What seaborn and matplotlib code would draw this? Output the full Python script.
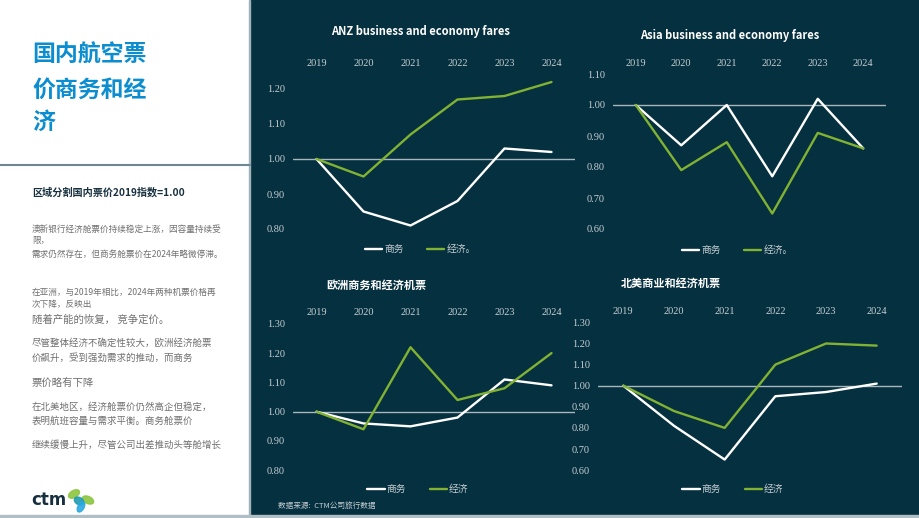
import matplotlib
matplotlib.use('Agg')
import matplotlib.pyplot as plt
import seaborn as sns
import pandas as pd
from matplotlib.patches import Rectangle, Ellipse
from matplotlib.lines import Line2D
from matplotlib.ticker import FormatStrFormatter

# data (index 2019 = 1.00)
years = ['2019', '2020', '2021', '2022', '2023', '2024']
anz_business = [1.00, 0.85, 0.81, 0.88, 1.03, 1.02]
anz_economy = [1.00, 0.95, 1.07, 1.17, 1.18, 1.22]
asia_business = [1.00, 0.87, 1.00, 0.77, 1.02, 0.86]
asia_economy = [1.00, 0.79, 0.88, 0.65, 0.91, 0.86]
europe_business = [1.00, 0.96, 0.95, 0.98, 1.11, 1.09]
europe_economy = [1.00, 0.94, 1.22, 1.04, 1.08, 1.20]
na_business = [1.00, 0.81, 0.65, 0.95, 0.97, 1.01]
na_economy = [1.00, 0.88, 0.80, 1.10, 1.20, 1.19]

anz_ticks = [0.80, 0.90, 1.00, 1.10, 1.20]
asia_ticks = [0.60, 0.70, 0.80, 0.90, 1.00, 1.10]
europe_ticks = [0.80, 0.90, 1.00, 1.10, 1.20, 1.30]
na_ticks = [0.60, 0.70, 0.80, 0.90, 1.00, 1.10, 1.20, 1.30]

W, H = 920, 518
NAVY = '#05303f'
GREEN = '#82b232'
LIGHT = '#c5ced3'
BLUE = '#0b8dcf'
DARK = '#17303f'
GREY = '#707070'

sns.set_theme(style='white')
plt.rcParams['font.family'] = ['Noto Sans CJK SC', 'DejaVu Sans']

fig = plt.figure(figsize=(9.2, 5.18), dpi=100)
fig.patch.set_facecolor('white')

# backgrounds
fig.add_artist(Rectangle((250 / W, 0), (W - 250) / W, 1, transform=fig.transFigure,
                         color=NAVY, zorder=0))
fig.add_artist(Rectangle((249.5 / W, 0), 1 / W, 1, transform=fig.transFigure,
                         color='#9fb1b9', zorder=0))
fig.add_artist(Rectangle((0, 0), 1, 3 / H, transform=fig.transFigure,
                         color='#b0bec5', zorder=1))


def fx(x):
    return x / W


def fy(y):
    return 1 - y / H


def draw_chart(box, y0, ppu, business, economy, eco_label, ticks,
               title, title_pos, legend_pos):
    left, top, right, bottom = box
    ax = fig.add_axes([fx(left), fy(bottom), (right - left) / W, (bottom - top) / H])
    ax.patch.set_alpha(0)

    df = pd.DataFrame({
        'year': years * 2,
        'fare': business + economy,
        'series': ['商务'] * len(years) + ['经济'] * len(years),
    })
    ax.axhline(1.0, color='#a9b6bc', lw=1, zorder=1)
    sns.lineplot(data=df, x='year', y='fare', hue='series', sort=False,
                 palette={'商务': 'white', '经济': GREEN}, linewidth=1.7, ax=ax)

    ax.set_xlim(-0.5, 5.5)
    ax.set_ylim(1 + (y0 - bottom) / ppu, 1 + (y0 - top) / ppu)
    ax.set_yticks(ticks)
    ax.yaxis.set_major_formatter(FormatStrFormatter('%.2f'))
    ax.xaxis.tick_top()
    ax.set_xlabel('')
    ax.set_ylabel('')
    ax.tick_params(axis='x', length=0, pad=2, labelsize=7.5, labelcolor=LIGHT)
    ax.tick_params(axis='y', length=0, pad=6, labelsize=7.5, labelcolor=LIGHT)
    for lab in ax.get_xticklabels() + ax.get_yticklabels():
        lab.set_fontfamily('Liberation Serif')
    for s in ax.spines.values():
        s.set_visible(False)
    ax.grid(False)

    handles, _ = ax.get_legend_handles_labels()
    ax.legend(handles, ['商务', eco_label], ncol=2, frameon=False, loc='center',
              bbox_to_anchor=(fx(legend_pos[0]), fy(legend_pos[1])),
              bbox_transform=fig.transFigure, fontsize=7, labelcolor=LIGHT,
              handlelength=1.8, handletextpad=0.2, columnspacing=2.4)

    fig.text(fx(title_pos[0]), fy(title_pos[1]), title, ha='center', va='center',
             fontsize=8, weight='bold', color='white')
    return ax


draw_chart((293, 71, 575, 240), 159, 350, anz_business, anz_economy, '经济。',
           anz_ticks, 'ANZ business and economy fares', (420, 31), (420, 249))
draw_chart((613, 71, 886, 240), 105, 310, asia_business, asia_economy, '经济。',
           asia_ticks, 'Asia business and economy fares', (730, 35), (737, 250))
draw_chart((293, 320, 575, 478), 411.7, 293, europe_business, europe_economy, '经济',
           europe_ticks, '欧洲商务和经济机票', (376, 285), (418, 489))
draw_chart((598, 319, 902, 475), 385.7, 211, na_business, na_economy, '经济',
           na_ticks, '北美商业和经济机票', (671, 283), (733, 489))

fig.text(fx(278), fy(506), '数据来源:  CTM公司旅行数据', fontsize=5.5, color=LIGHT,
         va='center')

# left panel
for txt, y in [('国内航空票', 55), ('价商务和经', 90), ('济', 122)]:
    fig.text(fx(32), fy(y), txt, fontsize=16.5, weight='bold', color=BLUE, va='center')

fig.add_artist(Line2D([0, 250 / W], [fy(165), fy(165)], transform=fig.transFigure,
                      color='#6f8791', lw=1.5))

fig.text(fx(32), fy(192), '区域分割国内票价2019指数=1.00', fontsize=7.3, weight='bold',
         color=DARK, va='center')

body = [
    ('澳新银行经济舱票价持续稳定上涨，因容量持续受', 229, 6.2),
    ('限，', 240, 6.2),
    ('需求仍然存在，但商务舱票价在2024年略微停滞。', 254, 6.2),
    ('在亚洲，与2019年相比，2024年两种机票价格再', 292, 6.2),
    ('次下降，反映出', 304, 6.2),
    ('随着产能的恢复， 竞争定价。', 320, 7.5),
    ('尽管整体经济不确定性较大，欧洲经济舱票', 343, 6.8),
    ('价飙升，受到强劲需求的推动，而商务', 358, 6.8),
    ('票价略有下降', 383, 7.5),
    ('在北美地区，经济舱票价仍然高企但稳定，', 407, 6.8),
    ('表明航班容量与需求平衡。商务舱票价', 421, 6.8),
    ('继续缓慢上升，尽管公司出差推动头等舱增长', 445, 6.8),
]
for txt, y, size in body:
    fig.text(fx(32), fy(y), txt, fontsize=size, color=GREY, va='center')

# ctm logo
fig.text(fx(31), fy(500), 'ctm', fontsize=12, weight='bold', color=DARK, va='center',
         family='DejaVu Sans')
leaves = [
    ((74, 494), 12, 7, 30, '#8cc63f'),
    ((88, 500), 12, 7, -25, '#8cc63f'),
    ((79, 501), 10, 7, -30, '#1f9bb0'),
    ((81, 507), 11, 6, 60, '#29a8e0'),
]
for (cx, cy), w, h, ang, col in leaves:
    fig.add_artist(Ellipse((cx / 100, (H - cy) / 100), w / 100, h / 100, angle=ang,
                           transform=fig.dpi_scale_trans, color=col, alpha=0.9))

fig.savefig('out.png', dpi=100)
